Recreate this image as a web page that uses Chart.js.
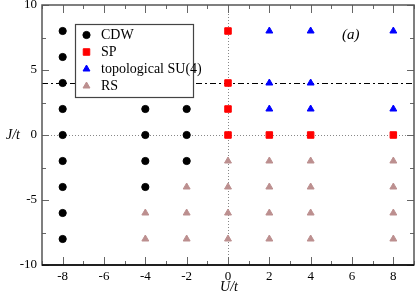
<!DOCTYPE html>
<html><head><meta charset="utf-8">
<script src="https://cdn.jsdelivr.net/npm/chart.js@4/dist/chart.umd.min.js"></script>
<style>html,body{margin:0;padding:0;background:#fff}#wrap{width:415px;height:294px}</style>
</head><body><div id="wrap"><canvas id="c" width="415" height="294"></canvas></div>
<script>
const cdwU = [-8,-8,-8,-8,-8,-8,-8,-8,-8,-4,-4,-4,-4,-2,-2,-2];
const cdwJ = [8,6,4,2,0,-2,-4,-6,-8,2,0,-2,-4,2,0,-2];
const spU = [0,0,0,0,2,4,8];
const spJ = [8,4,2,0,0,0,0];
const suU = [2,2,2,4,4,4,8,8];
const suJ = [8,4,2,8,4,2,8,2];
const rsU = [-4,-4,-2,-2,-2,0,0,0,0,2,2,2,2,4,4,4,4,8,8,8,8];
const rsJ = [-6,-8,-4,-6,-8,-2,-4,-6,-8,-2,-4,-6,-8,-2,-4,-6,-8,-2,-4,-6,-8];
const seriesNames = ['CDW','SP','topological SU(4)','RS'];
const xTicks = [-8,-6,-4,-2,0,2,4,6,8];
const yTicks = [-10,-5,0,5,10];
const xMinor = [-9,-7,-5,-3,-1,1,3,5,7,9];
const yMinor = [-7.5,-2.5,2.5,7.5];
const dashJ = 4;

const pts = (u,j)=>u.map((v,i)=>({x:v,y:j[i]}));
const FONT = "'Liberation Serif', 'Times New Roman', serif";
Chart.defaults.font.family = FONT;

const styles = [
  {pointStyle:'circle', radius:3.6, color:'#000000'},
  {pointStyle:'rect', radius:4.6, color:'#ff0000'},
  {pointStyle:'triangle', radius:4, color:'#0000ff'},
  {pointStyle:'triangle', radius:4, color:'#bc8f8f'}
];
const data = [pts(cdwU,cdwJ), pts(spU,spJ), pts(suU,suJ), pts(rsU,rsJ)];

const deco = {
  id:'deco',
  beforeDatasetsDraw(chart){
    const {ctx, chartArea:a, scales:{x,y}} = chart;
    ctx.save();
    ctx.strokeStyle = '#888'; ctx.lineWidth = 1; ctx.setLineDash([1,2]);
    ctx.beginPath();
    ctx.moveTo(a.left, Math.round(y.getPixelForValue(0))+0.5); ctx.lineTo(a.right, Math.round(y.getPixelForValue(0))+0.5);
    ctx.moveTo(Math.round(x.getPixelForValue(0))+0.5, a.top); ctx.lineTo(Math.round(x.getPixelForValue(0))+0.5, a.bottom);
    ctx.stroke();
    ctx.strokeStyle = '#000'; ctx.setLineDash([6,3,2,3]);
    ctx.beginPath();
    const yy = Math.round(y.getPixelForValue(dashJ))+0.5;
    ctx.moveTo(a.left, yy); ctx.lineTo(a.right, yy); ctx.stroke();
    ctx.restore();
  },
  afterDatasetsDraw(chart){
    const {ctx, chartArea:a, scales:{x,y}} = chart;
    ctx.save();
    ctx.strokeStyle = '#666'; ctx.lineWidth = 1;
    ctx.beginPath();
    xTicks.forEach(v=>{const p=Math.round(x.getPixelForValue(v))+0.5;
      ctx.moveTo(p,a.bottom); ctx.lineTo(p,a.bottom-8); ctx.moveTo(p,a.top); ctx.lineTo(p,a.top+8);});
    xMinor.forEach(v=>{const p=Math.round(x.getPixelForValue(v))+0.5;
      ctx.moveTo(p,a.bottom); ctx.lineTo(p,a.bottom-4); ctx.moveTo(p,a.top); ctx.lineTo(p,a.top+4);});
    yTicks.forEach(v=>{const p=Math.round(y.getPixelForValue(v))+0.5;
      ctx.moveTo(a.left,p); ctx.lineTo(a.left+7,p); ctx.moveTo(a.right,p); ctx.lineTo(a.right-7,p);});
    yMinor.forEach(v=>{const p=Math.round(y.getPixelForValue(v))+0.5;
      ctx.moveTo(a.left,p); ctx.lineTo(a.left+4,p); ctx.moveTo(a.right,p); ctx.lineTo(a.right-4,p);});
    ctx.stroke();
    ctx.strokeStyle = '#555'; ctx.lineWidth = 1.5;
    ctx.strokeRect(a.left, a.top, a.right-a.left, a.bottom-a.top);
    ctx.strokeStyle = '#000';
    ctx.beginPath(); ctx.moveTo(a.left, a.bottom); ctx.lineTo(a.right, a.bottom); ctx.stroke();
    const lx=75.5, ly=24.5, lw=118, lh=73;
    ctx.fillStyle='#fff'; ctx.fillRect(lx,ly,lw,lh);
    ctx.strokeStyle='#444'; ctx.lineWidth=1.2; ctx.strokeRect(lx,ly,lw,lh);
    ctx.font = '14px '+FONT; ctx.textBaseline='middle'; ctx.textAlign='left';
    seriesNames.forEach((n,i)=>{
      const cy = 35 + i*17;
      const s = styles[i];
      ctx.fillStyle = s.color; ctx.strokeStyle = s.color; ctx.lineWidth=1;
      Chart.helpers.drawPoint(ctx, {pointStyle:s.pointStyle, radius:s.radius, borderWidth:1}, 86.5, cy);
      ctx.fillStyle='#000';
      ctx.fillText(n, 101, cy+0.5);
    });
    ctx.font = 'italic 15px '+FONT; ctx.fillStyle='#000';
    ctx.fillText('(a)', 342, 35);
    ctx.font = 'italic 14px '+FONT; ctx.textAlign='center';
    ctx.fillText('J/t', 13, y.getPixelForValue(0));
    ctx.fillText('U/t', x.getPixelForValue(0)+1, 287);
    ctx.restore();
  }
};

new Chart(document.getElementById('c'), {
  type:'scatter',
  data:{datasets: data.map((d,i)=>({
    label: seriesNames[i], data:d,
    pointStyle: styles[i].pointStyle, pointRadius: styles[i].radius,
    backgroundColor: styles[i].color, borderColor: styles[i].color, borderWidth:1,
    pointHoverRadius: styles[i].radius
  }))},
  options:{
    responsive:false, animation:false, events:[],
    layout:{autoPadding:false, padding:{top:5,right:1,left:0,bottom:0}},
    plugins:{legend:{display:false}, tooltip:{enabled:false}},
    scales:{
      x:{type:'linear', min:-9, max:9,
        afterFit(s){s.height=29; s.paddingLeft=0; s.paddingRight=0;},
        afterBuildTicks(s){s.ticks = xTicks.map(v=>({value:v}));},
        grid:{display:false, drawTicks:false}, border:{display:false},
        ticks:{color:'#000', font:{family:FONT, size:13}, padding:4, maxRotation:0, autoSkip:false}},
      y:{type:'linear', min:-10, max:10,
        afterFit(s){s.width=42; s.paddingTop=0; s.paddingBottom=0;},
        afterBuildTicks(s){s.ticks = yTicks.map(v=>({value:v}));},
        grid:{display:false, drawTicks:false}, border:{display:false},
        ticks:{color:'#000', font:{family:FONT, size:13}, padding:5, autoSkip:false}}
    }
  },
  plugins:[deco]
});
</script></body></html>
